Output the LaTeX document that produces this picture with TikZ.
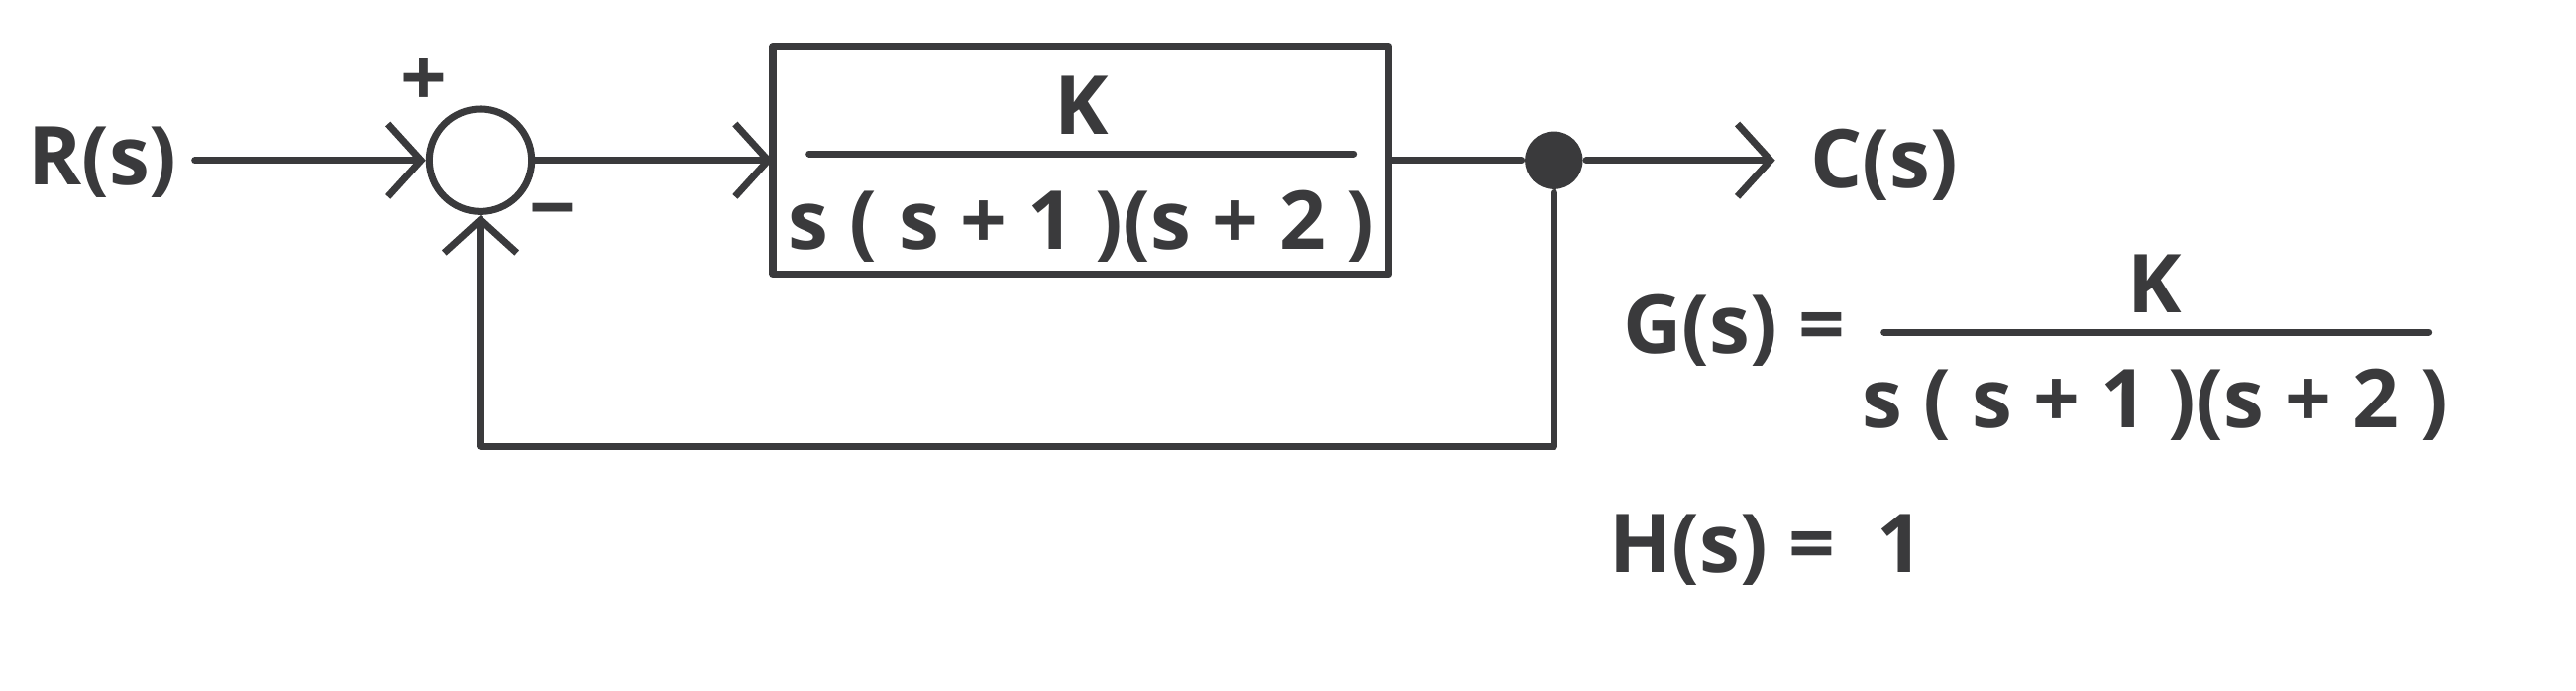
\documentclass[tikz,border=0pt]{standalone}
\usepackage{fontspec}
\setmainfont{Open Sans}
\usetikzlibrary{arrows.meta}
\definecolor{ink}{HTML}{3A3A3C}
\begin{document}
\begin{tikzpicture}[x=0.01cm,y=-0.01cm,line width=1.2pt,draw=ink,
  lbl/.style={text=ink,font=\fontsize{14}{16}\selectfont\bfseries,inner sep=0},
  arr/.style={-{Straight Barb[length=0.2cm,width=0.44cm,line width=1.2pt]}},
  line cap=round, line join=round]
\useasboundingbox (0,0) rectangle (1560,417.6);
\node[lbl] (R) at (62,98) {R(s)};
\node[circle,draw=ink,minimum size=0.62cm,inner sep=0,line width=1.2pt] (S) at (291,97) {};
\node[lbl] at (257,50) {+};
\node[lbl] at (335,133) {−};
\draw[draw=ink,line width=1.2pt] (468,28) rectangle (841,166);
\coordinate (BL) at (468,97);
\coordinate (BR) at (841,97);
\node[lbl] (K1) at (655,64) {K};
\draw (490,93) -- (820,93);
\node[lbl] (D1) at (655,137) {s ( s + 1 )(s + 2 )};
\node[circle,fill=ink,minimum size=0.35cm,inner sep=0] (dot) at (941,97) {};
\coordinate (out) at (1075,97);
\node[lbl] (C) at (1141,100) {C(s)};
\coordinate (f1) at (941,270);
\coordinate (f2) at (291,270);
\draw[arr] (118,97) -- (S.west);
\draw[arr] (S.east) -- (BL);
\draw (BR) -- (dot);
\draw[arr] (dot) -- (out);
\draw[arr] (dot) -- (f1) -- (f2) -- (S.south);
\node[lbl] (G) at (1050,200) {G(s) =};
\node[lbl] (K2) at (1305,172) {K};
\draw (1141,201) -- (1471,201);
\node[lbl] (D2) at (1305,245) {s ( s + 1 )(s + 2 )};
\node[lbl] (H) at (1070,333) {H(s) = \ 1};
\end{tikzpicture}
\end{document}
